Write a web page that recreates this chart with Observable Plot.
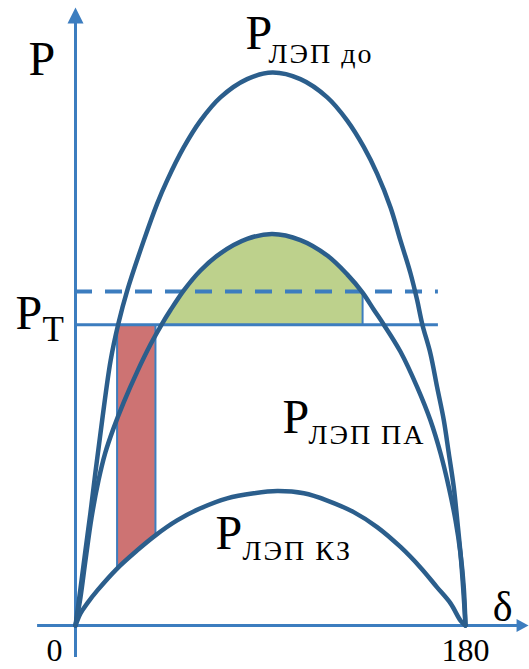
<!DOCTYPE html>
<html><head><meta charset="utf-8">
<script src="https://cdn.jsdelivr.net/npm/d3@7"></script>
<script src="https://cdn.jsdelivr.net/npm/@observablehq/plot@0.6"></script>
<style>body{margin:0;background:#fff}</style>
</head><body><div id="chart"></div>
<script>
// δ in degrees, P in relative units (P_ЛЭП до max = 1)
const deltaDo = [0,2.3,4.6,6.9,9.2,12.3,16.2,19.8,23.9,31.5,37.7,42.3,50.0,57.7,66.9,79.2,90.9,103.8,116.2,125.4,133.1,139.2,145.4,150.0,154.6,157.7,160.1,163.8,166.9,170.0,172.3,174.6,176.2,177.7,178.9,180];
const pDo     = [0,0.067,0.136,0.204,0.277,0.371,0.479,0.546,0.606,0.696,0.763,0.805,0.865,0.913,0.955,0.988,1.0,0.988,0.955,0.913,0.865,0.817,0.756,0.696,0.637,0.588,0.544,0.492,0.431,0.371,0.311,0.250,0.190,0.130,0.069,0];
const deltaPa = [0,2.3,4.6,7.4,10.6,13.8,17.5,22.2,28.5,34.6,40.0,43.8,50.0,57.7,66.9,79.2,90.8,103.8,116.2,125.4,132.5,137.7,142.3,150.0,157.7,163.8,168.5,172.3,175.4,177.7,179.2,180];
const pPa     = [0,0.051,0.118,0.195,0.262,0.313,0.356,0.403,0.459,0.508,0.546,0.570,0.606,0.642,0.673,0.699,0.708,0.697,0.669,0.635,0.602,0.571,0.544,0.495,0.431,0.371,0.311,0.250,0.190,0.130,0.069,0];
const deltaKz = [0,2.3,5.4,10.0,19.2,28.5,36.9,46.9,57.7,70.0,82.3,93.1,105.4,116.2,128.4,139.2,150.0,159.2,166.9,173.1,177.7,180];
const pKz     = [0,0.022,0.040,0.063,0.103,0.136,0.163,0.190,0.212,0.230,0.239,0.243,0.239,0.226,0.205,0.178,0.142,0.105,0.069,0.040,0.009,0];
const pT = 0.544;          // turbine power level
const pTdashed = 0.604;    // dashed level
const levelEnd = 167.5;    // right end of the level lines
const redRange = [19.2, 36.9];
const greenRange = [40.0, 132.5];
const xTicks = [0, 180];
const curveNames = ["ЛЭП до", "ЛЭП ПА", "ЛЭП КЗ"];

const rows = (ds, ps) => ds.map((d, i) => ({delta: d, p: ps[i]}));
const doData = rows(deltaDo, pDo), paData = rows(deltaPa, pPa), kzData = rows(deltaKz, pKz);
const redData = kzData.filter(d => d.delta >= redRange[0] && d.delta <= redRange[1]);
const greenData = paData.filter(d => d.delta >= greenRange[0] && d.delta <= greenRange[1]);
const redEdges = [redData[0], redData[redData.length - 1]];

const AX = "#3c7dbf", CURVE = "#2b5e8c";
const SERIF = "'Times New Roman', 'Liberation Serif', Tinos, 'DejaVu Serif', serif";
const arrowUp = {draw(ctx) { ctx.moveTo(0, 0); ctx.lineTo(8, 16); ctx.lineTo(-8, 16); ctx.closePath(); }};
const arrowRight = {draw(ctx) { ctx.moveTo(0, 0); ctx.lineTo(-12, 6.5); ctx.lineTo(-12, -6.5); ctx.closePath(); }};

const mainLabels = [
  {t: "P", x: -21.7, y: 0.995, s: 48},
  {t: "P", x: -27.7, y: 0.537, s: 48},
  {t: "T", x: -15.2, y: 0.515, s: 35},
  {t: "P", x: 78.5, y: 1.043, s: 48},
  {t: curveNames[0], x: 89.1, y: 1.018, s: 28},
  {t: "P", x: 95.5, y: 0.349, s: 48},
  {t: curveNames[1], x: 107.5, y: 0.329, s: 28},
  {t: "P", x: 64.6, y: 0.139, s: 48},
  {t: curveNames[2], x: 77.1, y: 0.118, s: 28}
];

const chart = Plot.plot({
  width: 529, height: 669,
  marginLeft: 75, marginRight: 64, marginTop: 72, marginBottom: 44,
  x: {domain: [0, 180], axis: null},
  y: {domain: [0, 1], axis: null},
  style: {background: "#fff", overflow: "visible"},
  marks: [
    Plot.ruleX([0], {y1: -0.058, y2: 1.094, stroke: AX, strokeWidth: 3}),
    Plot.ruleY([0], {x1: -17.5, x2: 205.4, stroke: AX, strokeWidth: 3}),
    Plot.dot([{x: 0, y: 1.1175}], {x: "x", y: "y", symbol: arrowUp, fill: AX}),
    Plot.dot([{x: 209.1, y: 0}], {x: "x", y: "y", symbol: arrowRight, fill: AX}),
    Plot.areaY(redData, {x: "delta", y1: "p", y2: () => pT, fill: "#cd7373", curve: "catmull-rom"}),
    Plot.areaY(greenData, {x: "delta", y1: () => pT, y2: "p", fill: "#bdd18c", curve: "catmull-rom"}),
    Plot.ruleX(redEdges, {x: "delta", y1: "p", y2: () => pT, stroke: AX, strokeWidth: 2}),
    Plot.ruleX([greenRange[1]], {y1: pT, y2: pTdashed, stroke: AX, strokeWidth: 2}),
    Plot.ruleY([pT], {x1: 0, x2: levelEnd, stroke: AX, strokeWidth: 3}),
    Plot.ruleY([pTdashed], {x1: 0, x2: levelEnd, stroke: AX, strokeWidth: 4, strokeDasharray: "17,13"}),
    Plot.line(doData, {x: "delta", y: "p", stroke: CURVE, strokeWidth: 4.5, curve: "catmull-rom"}),
    Plot.line(paData, {x: "delta", y: "p", stroke: CURVE, strokeWidth: 4.5, curve: "catmull-rom"}),
    Plot.line(kzData, {x: "delta", y: "p", stroke: CURVE, strokeWidth: 4.5, curve: "catmull-rom"}),
    Plot.text(mainLabels, {x: "x", y: "y", text: "t", fontSize: "s", textAnchor: "start", lineAnchor: "bottom", fontFamily: SERIF, fill: "#000"}),
    Plot.text(["δ"], {x: 197.1, y: 0.009, text: d => d, fontSize: 42, textAnchor: "middle", lineAnchor: "bottom", fontFamily: SERIF, fill: "#000"}),
    Plot.text(xTicks, {x: d => d, y: -0.064, text: d => String(d), fontSize: 32, textAnchor: "middle", lineAnchor: "bottom", fontFamily: SERIF, fill: "#000"})
  ]
});
chart.style.setProperty("font-family", SERIF, "important");
chart.querySelectorAll("g, text").forEach(el => {
  el.setAttribute("font-family", SERIF);
  el.style.setProperty("font-family", SERIF, "important");
});
const texts = d3.select(chart).selectAll("text");
texts.filter(function() { return this.textContent === "0"; }).attr("transform", function() { return (this.getAttribute("transform") || "") + " translate(-21,0)"; });
texts.filter(function() { return this.textContent.startsWith("ЛЭП"); }).attr("letter-spacing", 2);
document.getElementById("chart").appendChild(chart);
</script>
</body></html>
